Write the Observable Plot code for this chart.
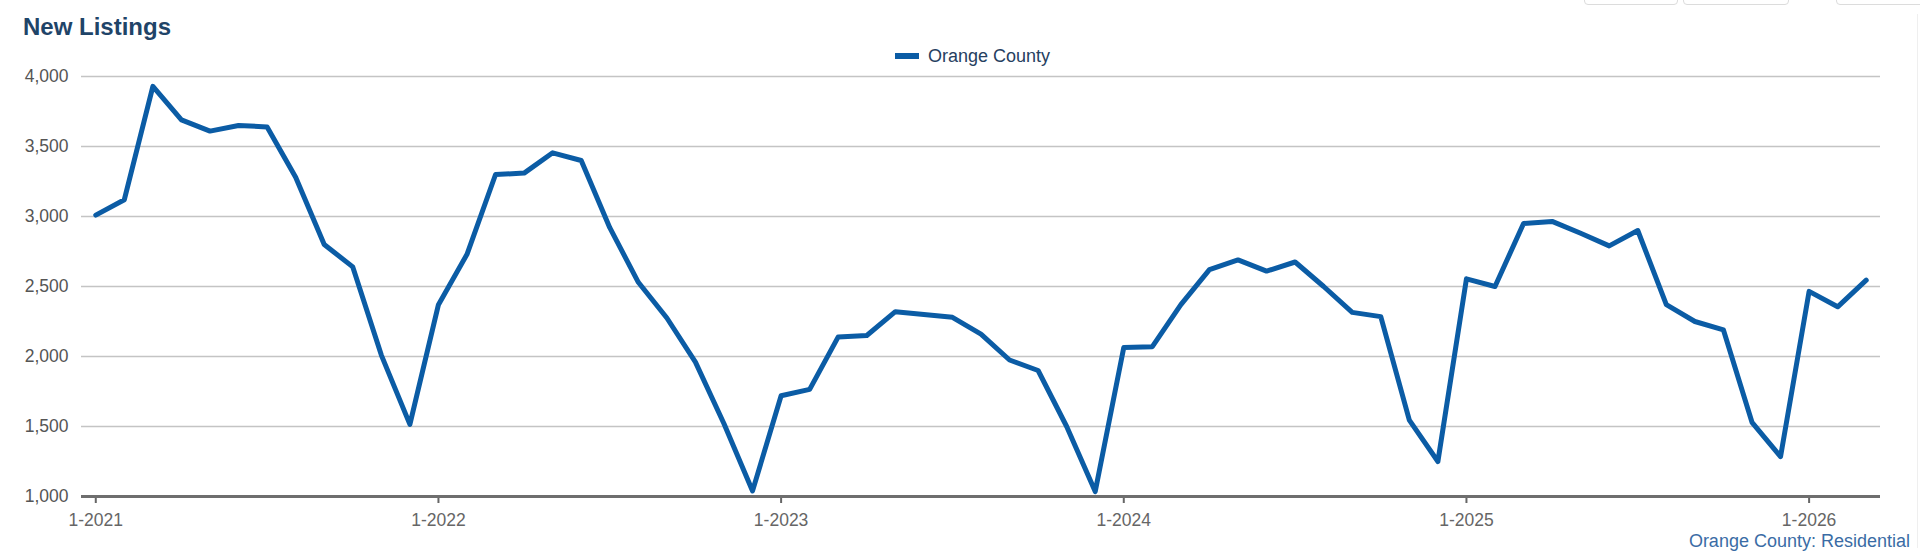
<!DOCTYPE html>
<html>
<head>
<meta charset="utf-8">
<script src="https://cdn.jsdelivr.net/npm/d3@7"></script>
<script src="https://cdn.jsdelivr.net/npm/@observablehq/plot@0.6"></script>
<style>
  body { margin: 0; background: #fff; font-family: "Liberation Sans", Arial, Helvetica, sans-serif; }
  #wrap { position: relative; width: 1920px; height: 560px; overflow: hidden; }
  #chart { position: absolute; left: 0; top: 0; }
  #title { position: absolute; left: 23px; top: 15px; font-size: 24px; line-height: 24px; font-weight: bold; color: #1f4468; white-space: nowrap; }
  #legend { position: absolute; left: 895px; top: 47px; height: 18px; display: flex; align-items: center; white-space: nowrap; }
  #legend .sw { width: 24px; height: 6px; background: #0b5ca5; margin-right: 9px; }
  #legend .lb { font-size: 18px; line-height: 18px; color: #26405f; }
  #caption { position: absolute; right: 10px; top: 532px; font-size: 18px; line-height: 18px; color: #3a6ca5; white-space: nowrap; }
  .btn { position: absolute; top: -6px; height: 9px; border: 1px solid #dcdcdc; border-radius: 4px; background: #fff; }
  #edge { position: absolute; left: 1917px; top: 14px; width: 0; height: 534px; border-left: 1px solid #efefef; }
</style>
</head>
<body>
<div id="wrap">
  <div id="chart"></div>
  <div id="title">New Listings</div>
  <div id="legend"><div class="sw"></div><div class="lb">Orange County</div></div>
  <div id="caption">Orange County: Residential</div>
  <div class="btn" style="left:1584px;width:92px;"></div>
  <div class="btn" style="left:1683px;width:104px;"></div>
  <div class="btn" style="left:1836px;width:90px;"></div>
  <div id="edge"></div>
</div>
<script>
// Monthly new listings, Orange County (Jan 2021 – Mar 2026)
const startYear = 2021;
const values2021 = [3010, 3120, 3930, 3690, 3610, 3650, 3640, 3280, 2800, 2640, 2010, 1515];
const values2022 = [2370, 2730, 3300, 3310, 3455, 3400, 2920, 2530, 2275, 1960, 1520, 1040];
const values2023 = [1720, 1765, 2140, 2150, 2320, 2300, 2280, 2160, 1975, 1900, 1500, 1035];
const values2024 = [2065, 2070, 2370, 2620, 2690, 2610, 2675, 2500, 2315, 2285, 1545, 1250];
const values2025 = [2555, 2500, 2950, 2965, 2880, 2790, 2900, 2370, 2250, 2190, 1530, 1285];
const values2026 = [2465, 2355, 2545];

const yTicks = [1000, 1500, 2000, 2500, 3000, 3500, 4000];
const xTickIndex = [0, 12, 24, 36, 48, 60];
const xTickLabels = ["1-2021", "1-2022", "1-2023", "1-2024", "1-2025", "1-2026"];

const allValues = [...values2021, ...values2022, ...values2023, ...values2024, ...values2025, ...values2026];
const data = allValues.map((v, i) => ({ i, v }));

const chart = Plot.plot({
  width: 1920,
  height: 560,
  marginTop: 76,
  marginBottom: 64,
  marginLeft: 81,
  marginRight: 40,
  style: { fontFamily: '"Liberation Sans", Arial, Helvetica, sans-serif', background: "transparent" },
  x: { type: "linear", domain: [-0.5, allValues.length - 0.5] },
  y: { domain: [1000, 4000] },
  marks: [
    Plot.gridY(yTicks.filter(d => d > 1000), { stroke: "#c4c4c4", strokeOpacity: 1, strokeWidth: 1.5 }),
    Plot.axisY(yTicks, {
      tickSize: 0, tickPadding: 13, fontSize: 17.5, color: "#555555",
      tickFormat: d3.format(","), label: null
    }),
    Plot.axisX(xTickIndex, {
      tickSize: 7, tickPadding: 10, fontSize: 17.5, color: "#666666", strokeWidth: 2,
      tickFormat: (d) => xTickLabels[xTickIndex.indexOf(d)], label: null
    }),
    Plot.ruleY([1000], { stroke: "#6e6e6e", strokeWidth: 3 }),
    Plot.line(data, { x: "i", y: "v", stroke: "#0b5ca5", strokeWidth: 5, strokeLinejoin: "round", strokeLinecap: "round" })
  ]
});
document.getElementById("chart").appendChild(chart);
</script>
</body>
</html>
